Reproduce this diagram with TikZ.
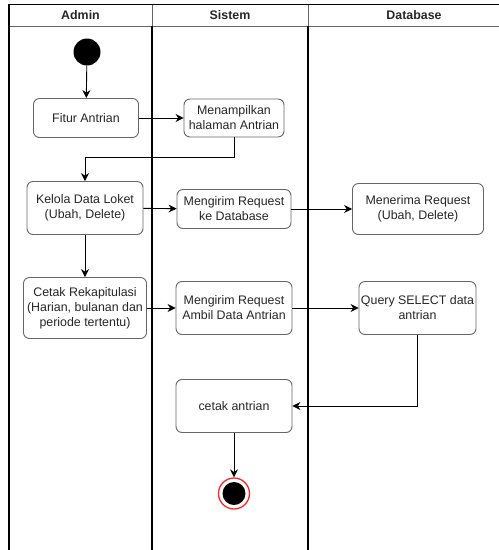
\documentclass[tikz,border=0pt]{standalone}
\usepackage{fontspec}
\setmainfont{Liberation Sans}
\usetikzlibrary{arrows.meta}
\begin{document}
\begin{tikzpicture}[x=1pt,y=-1pt,
  act/.style={draw=black!60, line width=0.9pt, rounded corners=6pt, fill=white, align=center, inner sep=0pt, font=\fontsize{12.4}{15}\selectfont, text=black!85},
  flow/.style={draw=black, line width=0.9pt, -{Stealth[length=8pt,width=8pt]}},
  lane/.style={draw=black, line width=1.6pt},
  hdr/.style={font=\bfseries\fontsize{12.4}{15}\selectfont, text=black!85}
]
\useasboundingbox (0,0) rectangle (499,550);
% swimlane frame
\draw[black!60, line width=0.8pt] (9,26) -- (499,26);
\draw[black!60, line width=0.8pt] (152,4) -- (152,26);
\draw[black!60, line width=0.8pt] (308,4) -- (308,26);
\draw[black, line width=0.9pt] (9,4) -- (499,4);
\draw[black, line width=1.2pt] (9,4) -- (9,550);
\draw[lane] (152,26) -- (152,550);
\draw[lane] (308,26) -- (308,550);
\node[hdr] (h1) at (80.5,15) {Admin};
\node[hdr] (h2) at (230,15) {Sistem};
\node[hdr] (h3) at (414,15) {Database};
% nodes
\node[circle, fill=black, minimum size=27pt, inner sep=0pt] (start) at (87,52) {};
\node[act, minimum width=105pt, minimum height=39pt] (fitur) at (86,118) {Fitur Antrian};
\node[act, minimum width=100pt, minimum height=38pt] (tampil) at (234,118) {Menampilkan\\halaman Antrian};
\node[act, minimum width=116pt, minimum height=53pt] (kelola) at (85,208) {Kelola Data Loket\\(Ubah, Delete)};
\node[act, minimum width=114pt, minimum height=39pt] (kirim1) at (234,209) {Mengirim Request\\ke Database};
\node[act, minimum width=131pt, minimum height=51pt] (terima) at (418,209) {Menerima Request\\(Ubah, Delete)};
\node[act, minimum width=123pt, minimum height=61pt] (cetak) at (85,308) {Cetak Rekapitulasi\\(Harian, bulanan dan\\periode tertentu)};
\node[act, minimum width=116pt, minimum height=53pt] (kirim2) at (234,308) {Mengirim Request\\Ambil Data Antrian};
\node[act, minimum width=117pt, minimum height=53pt] (query) at (417.5,308) {Query SELECT data\\antrian};
\node[act, minimum width=116pt, minimum height=53pt] (ca) at (234,406) {cetak antrian};
\node[circle, draw=red!85, line width=1.3pt, fill=white, minimum size=31pt, inner sep=0pt] (end) at (234,493.5) {};
\node[circle, fill=black, minimum size=23pt, inner sep=0pt] (endin) at (234,493.5) {};
\coordinate (b1) at (234,157);
\coordinate (b2) at (85,157);
% connectors
\draw[flow] (start) -- (fitur);
\draw[flow] (fitur) -- (tampil);
\draw[flow] (tampil.south) -- (b1) -- (b2) -- (kelola.north);
\draw[flow] (kelola) -- (kirim1);
\draw[flow] (kirim1) -- (terima);
\draw[flow] (kelola) -- (cetak);
\draw[flow] (cetak) -- (kirim2);
\draw[flow] (kirim2) -- (query);
\draw[flow] (query.south) |- (ca.east);
\draw[flow] (ca) -- (end);
\end{tikzpicture}
\end{document}
